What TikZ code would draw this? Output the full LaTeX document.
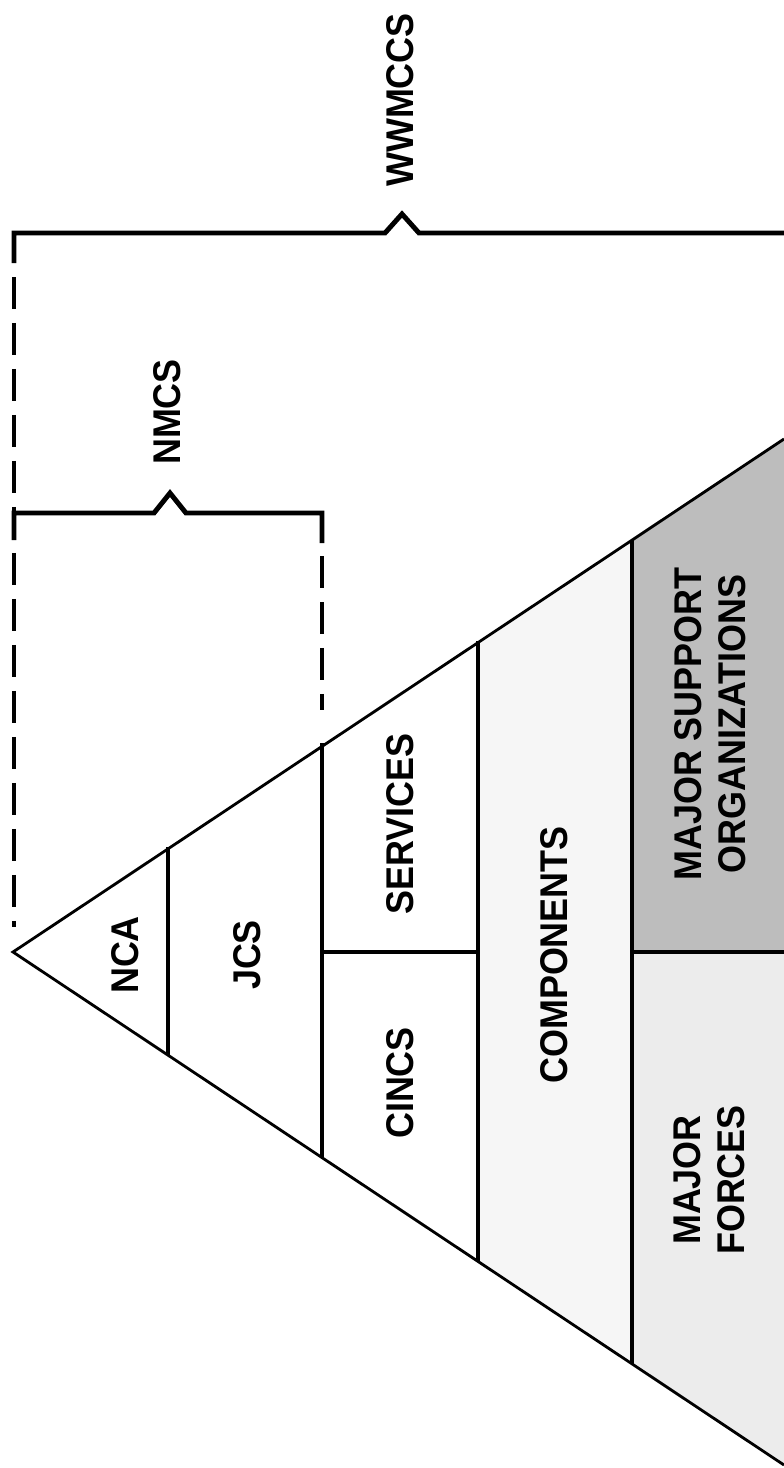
\documentclass[tikz,border=0pt]{standalone}
\usepackage{fontspec}
\setmainfont{Liberation Sans}
\definecolor{compfill}{gray}{0.965}
\definecolor{forcefill}{gray}{0.925}
\definecolor{supportfill}{gray}{0.74}

\begin{document}
\begin{tikzpicture}[x=0.02cm, y=-0.02cm, line join=miter,
  edge/.style={line width=1.6pt},
  divider/.style={line width=2.6pt},
  brk/.style={line width=2.8pt},
  brkdash/.style={brk, dash pattern=on 0.64cm off 0.28cm},
  lbl/.style={rotate=90, xscale=0.93, font=\fontsize{22}{25}\selectfont\bfseries, align=center, inner sep=0pt}]

\useasboundingbox[fill=white] (0,0) rectangle (784,1468);

% shaded tiers at the base of the pyramid
\fill[compfill]    (478,641) -- (632,540) -- (632,1364) -- (478,1261) -- cycle;
\fill[supportfill] (632,540) -- (784,439) -- (784,952) -- (632,952) -- cycle;
\fill[forcefill]   (632,952) -- (784,952) -- (784,1465) -- (632,1364) -- cycle;

% pyramid outline (runs off the right margin)
\coordinate (apex) at (13,952);
\coordinate (topR) at (784,439);
\coordinate (botR) at (784,1465);
\draw[edge] (topR) -- (apex) -- (botR);

% tier dividers
\draw[divider] (168,847) -- (168,1055);
\draw[divider] (322,743) -- (322,1157);
\draw[divider] (478,641) -- (478,1261);
\draw[divider] (632,540) -- (632,1364);
\draw[divider] (322,952) -- (478,952);
\draw[divider] (632,952) -- (784,952);

% WWMCCS bracket: whole pyramid
\draw[brk] (14,263) -- (14,233) -- (385,233) -- (402,214) -- (419,233) -- (784,233);
\draw[brkdash] (14,277) -- (14,927);

% NMCS bracket: NCA and JCS
\draw[brk] (14,540) -- (14,513) -- (154,513) -- (170,493) -- (186,513) -- (322,513) -- (322,543);
\draw[brkdash] (322,556) -- (322,710);

% labels
\node[lbl] (wwmccs) at (400,100) {WWMCCS};
\node[lbl] (nmcs) at (167,412) {NMCS};
\node[lbl] (nca) at (125,955) {NCA};
\node[lbl] (jcs) at (247,955) {JCS};
\node[lbl] (services) at (400,824) {SERVICES};
\node[lbl] (cincs) at (400,1083) {CINCS};
\node[lbl] (components) at (554,955) {COMPONENTS};
\node[lbl] (support) at (710,724) {MAJOR SUPPORT\\ORGANIZATIONS};
\node[lbl] (forces) at (709,1180) {MAJOR\\FORCES};

\end{tikzpicture}
\end{document}
